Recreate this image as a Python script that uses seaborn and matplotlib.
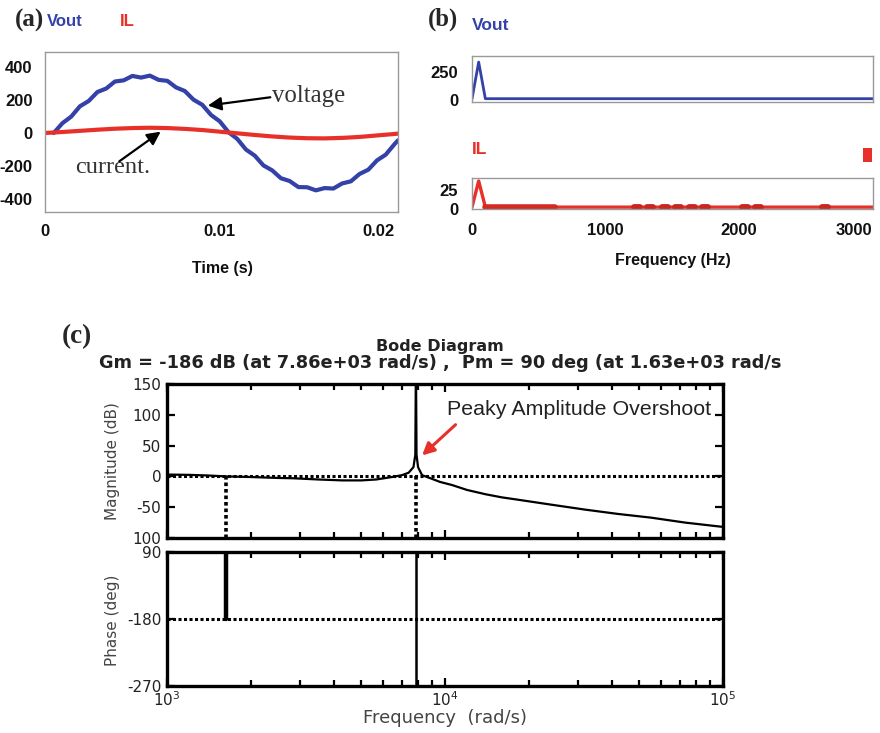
import numpy as np
import pandas as pd
import matplotlib
matplotlib.use("Agg")
import matplotlib.pyplot as plt
import seaborn as sns
from matplotlib import font_manager
from matplotlib.patches import Rectangle
from matplotlib.ticker import FixedLocator, LogLocator, NullFormatter, FixedFormatter

# ---------------- data ----------------
# (a) time domain
time_v = [0.0005, 0.0010, 0.0015, 0.0020, 0.0025, 0.0030, 0.0035, 0.0040, 0.0045, 0.0050,
          0.0055, 0.0060, 0.0065, 0.0070, 0.0075, 0.0080, 0.0085, 0.0090, 0.0095, 0.0100,
          0.0105, 0.0110, 0.0115, 0.0120, 0.0125, 0.0130, 0.0135, 0.0140, 0.0145, 0.0150,
          0.0155, 0.0160, 0.0165, 0.0170, 0.0175, 0.0180, 0.0185, 0.0190, 0.0195, 0.0200, 0.0202]
vout = [0, 60, 100, 163, 195, 250, 271, 314, 321, 348,
        338, 350, 324, 318, 278, 256, 203, 172, 110, 71,
        5, -36, -101, -138, -198, -228, -276, -293, -330, -331,
        -350, -336, -339, -308, -295, -250, -224, -167, -132, -68, -45]
time_i = [0.000, 0.001, 0.002, 0.003, 0.004, 0.005, 0.006, 0.007, 0.008, 0.009, 0.010,
          0.011, 0.012, 0.013, 0.014, 0.015, 0.016, 0.017, 0.018, 0.019, 0.020, 0.0202]
il = [0, 6, 13, 20, 26, 30, 32, 30, 25, 18, 8,
      -2, -12, -21, -28, -32, -33, -30, -24, -15, -6, -4]
a_xticks = [0, 0.01, 0.02]
a_xticklabels = ["0", "0.01", "0.02"]
a_yticks = [400, 200, 0, -200, -400]
a_yticklabels = ["400", "200", "0", "-200", "-400"]

# (b) spectra
fft_freq = [0, 50, 100, 3004]
fft_vout = [5, 340, 8, 8]
fft_il = [2, 37, 2, 2]
il_band = [100, 620]                      # thicker low-order harmonic band (Hz)
il_harm_freqs = [1236, 1333, 1446, 1543, 1648, 1745, 2045, 2142, 2644]
b_xticks = [0, 1000, 2000, 3000]
b_xticklabels = ["0", "1000", "2000", "3000"]
vout_yticks = [0, 250]
il_yticks = [0, 25]

# (c) Bode diagram
bode_freq = [1000, 1200, 1400, 1630, 2000, 2500, 2830, 3500, 4270, 5000, 5660, 6450,
             7000, 7400, 7700, 7820, 7855, 7865, 7900, 8000, 8270, 8980, 9600, 10600,
             12000, 14000, 16000, 18400, 24200, 32000, 42000, 55200, 73100, 100000]
bode_mag = [3, 2.5, 1.5, 0, -1, -2.5, -3, -5, -6.5, -6.5, -5, -1,
            2, 6, 15, 35, 170, 170, 35, 15, 2, -4, -9, -14,
            -22, -29, -34, -38, -46, -54, -61, -67, -75, -82]
phase_freq = [1000, 7860, 7860, 100000]
phase_deg = [-90, -90, -270, -270]
gm_freq = 7860
pm_freq = 1630
mag_ticks = [150, 100, 50, 0, -50, -100]
mag_ticklabels = ["150", "100", "50", "0", "-50", "100"]
phase_ticks = [-90, -180, -270]
phase_ticklabels = ["90", "-180", "-270"]

BLUE = "#3442a8"
RED = "#e8302a"

# ---------------- style ----------------
sns.set_style("white")
names = {f.name for f in font_manager.fontManager.ttflist}
NARROW = "Liberation Sans Narrow" if "Liberation Sans Narrow" in names else "Liberation Sans"
TICKSIZE = 13.5 if NARROW == "Liberation Sans Narrow" else 12
plt.rcParams["font.family"] = ["DejaVu Sans"]

W, H = 880, 733
fig = plt.figure(figsize=(W / 100, H / 100), dpi=100)


def rect(l, t, r, b):
    return [l / W, 1 - b / H, (r - l) / W, (b - t) / H]


def P(x, y):
    return x / W, 1 - y / H


renderer = fig.canvas.get_renderer()


def fit(txt, width):
    bb = txt.get_window_extent(renderer)
    txt.set_fontsize(txt.get_fontsize() * width / bb.width)
    return txt


def ftext(x, y, s, width=None, **kw):
    t = fig.text(*P(x, y), s, **kw)
    if width:
        fit(t, width)
    return t


def narrow_ticks(ax):
    for lab in ax.get_xticklabels() + ax.get_yticklabels():
        lab.set_fontfamily(NARROW)
        lab.set_fontweight("bold")
        lab.set_fontsize(TICKSIZE)
        lab.set_color("#111111")


# ---------------- (a) ----------------
axa = fig.add_axes(rect(45, 52, 398, 212))
sns.lineplot(x=time_v, y=vout, ax=axa, color=BLUE, lw=3.0, estimator=None)
sns.lineplot(x=time_i, y=il, ax=axa, color=RED, lw=3.0, estimator=None)
axa.set_xlim(0, 0.0202)
axa.set_ylim(-482, 494)
axa.set_xticks(a_xticks)
axa.set_xticklabels(a_xticklabels)
axa.set_yticks(a_yticks)
axa.set_yticklabels(a_yticklabels)
axa.tick_params(length=0, pad=9)
for s in axa.spines.values():
    s.set_color("#999999")
    s.set_linewidth(1.0)
narrow_ticks(axa)
axa.get_xticklabels()[-1].set_ha("right")
axa.get_xticklabels()[-1].set_x(0.0202)

axa.annotate("", xy=(0.00916, 165), xytext=(0.01305, 220),
             arrowprops=dict(arrowstyle="-|>", color="black", lw=1.6, mutation_scale=20))
axa.annotate("", xy=(0.00675, 18), xytext=(0.00412, -183),
             arrowprops=dict(arrowstyle="-|>", color="black", lw=1.6, mutation_scale=20))
tv = axa.text(0.0130, 225, "voltage", family="Liberation Serif", fontsize=17,
              color="#333333", ha="left", va="center")
fit(tv, 73)
tc = axa.text(0.00172, -213, "current.", family="Liberation Serif", fontsize=17,
              color="#333333", ha="left", va="center")
fit(tc, 75)

ftext(15, 20, "(a)", 29, family="Liberation Serif", weight="bold", fontsize=15, va="center")
ftext(47, 21, "Vout", family=NARROW, weight="bold", color=BLUE, fontsize=12, va="center")
ftext(120, 21, "IL", family=NARROW, weight="bold", color=RED, fontsize=12, va="center")
ftext(222, 268, "Time (s)", family=NARROW, weight="bold", fontsize=11.5,
      ha="center", va="center", color="#111111")

# ---------------- (b) ----------------
axv = fig.add_axes(rect(472, 56, 873, 102))
sns.lineplot(x=fft_freq, y=fft_vout, ax=axv, color=BLUE, lw=2.0, estimator=None)
axv.set_xlim(0, 3004)
axv.set_ylim(-22, 395)
axv.set_xticks([])
axv.set_yticks(vout_yticks)
axv.set_yticklabels([str(v) for v in vout_yticks])

axi = fig.add_axes(rect(472, 178, 873, 209))
sns.lineplot(x=fft_freq, y=fft_il, ax=axi, color=RED, lw=2.4, estimator=None)
sns.lineplot(x=il_band, y=[2, 2], ax=axi, color="#d42a22", lw=4.0, estimator=None)
for f in il_harm_freqs:
    sns.lineplot(x=[f - 22, f + 22], y=[2, 2], ax=axi, color="#c8261f", lw=4.2, estimator=None)
axi.set_xlim(0, 3004)
axi.set_ylim(-0.5, 41)
axi.set_xticks(b_xticks)
axi.set_xticklabels(b_xticklabels)
axi.set_yticks(il_yticks)
axi.set_yticklabels([str(v) for v in il_yticks])
for ax in (axv, axi):
    ax.tick_params(length=0, pad=10)
    for s in ax.spines.values():
        s.set_color("#999999")
        s.set_linewidth(1.0)
    narrow_ticks(ax)
axi.get_xticklabels()[-1].set_ha("right")
axi.get_xticklabels()[-1].set_x(3004)

fig.patches.append(Rectangle(P(863, 162), 9 / W, 14 / H, transform=fig.transFigure,
                             facecolor=RED, edgecolor="none"))
ftext(428, 19, "(b)", 30, family="Liberation Serif", weight="bold", fontsize=15, va="center")
ftext(472, 26, "Vout", family=NARROW, weight="bold", color=BLUE, fontsize=12.5, va="center")
ftext(472, 150, "IL", family=NARROW, weight="bold", color=RED, fontsize=12.5, va="center")
ftext(673, 260, "Frequency (Hz)", family=NARROW, weight="bold", fontsize=11.5,
      ha="center", va="center", color="#111111")

# ---------------- (c) ----------------
axm = fig.add_axes(rect(167, 384, 723, 538))
axp = fig.add_axes(rect(167, 552, 723, 686), sharex=axm)
for ax in (axm, axp):
    ax.set_xscale("log")

sns.lineplot(x=bode_freq, y=bode_mag, ax=axm, color="black", lw=1.6, estimator=None)
dots = (0, (1.0, 0.8))
axm.axhline(0, color="black", lw=2.2, ls=dots)
axm.plot([pm_freq, pm_freq], [0, -100], color="black", lw=2.6, ls=dots)
axm.plot([gm_freq, gm_freq], [0, -100], color="black", lw=2.6, ls=dots)
axm.set_xlim(1000, 100000)
axm.set_ylim(-100, 150)
axm.yaxis.set_major_locator(FixedLocator(mag_ticks))
axm.yaxis.set_major_formatter(FixedFormatter(mag_ticklabels))

sns.lineplot(x=phase_freq, y=phase_deg, ax=axp, color="black", lw=1.8,
             estimator=None, sort=False)
axp.axhline(-180, color="black", lw=2.2, ls=dots)
axp.plot([pm_freq, pm_freq], [-90, -180], color="black", lw=3.2)
axp.set_ylim(-270, -90)
axp.yaxis.set_major_locator(FixedLocator(phase_ticks))
axp.yaxis.set_major_formatter(FixedFormatter(phase_ticklabels))

for ax in (axm, axp):
    ax.xaxis.set_major_locator(LogLocator(base=10, numticks=10))
    ax.xaxis.set_minor_locator(LogLocator(base=10, subs=np.arange(2, 10), numticks=20))
    ax.xaxis.set_minor_formatter(NullFormatter())
    ax.tick_params(which="both", direction="in", top=True, right=True, bottom=True, left=True,
                   colors="black", labelcolor="#222222", labelsize=11, pad=4, width=1.6)
    ax.tick_params(which="major", length=6)
    ax.tick_params(which="minor", length=4)
    for s in ax.spines.values():
        s.set_color("black")
        s.set_linewidth(2.4)
axm.tick_params(labelbottom=False)
axp.tick_params(axis="x", pad=3)

axm.annotate("", xy=(8130, 31), xytext=(11100, 87),
             arrowprops=dict(arrowstyle="-|>", color=RED, lw=2.2, mutation_scale=18))
tp = axm.text(10160, 108, "Peaky Amplitude Overshoot", family=NARROW, fontsize=15,
              color="#222222", ha="left", va="center")
fit(tp, 265)

ftext(62, 337, "(c)", 30, family="Liberation Serif", weight="bold", fontsize=15, va="center")
ftext(440, 346, "Bode Diagram", weight="bold", fontsize=11.5, ha="center", va="center",
      color="#222222")
ftext(440, 363, "Gm = -186 dB (at 7.86e+03 rad/s) ,  Pm = 90 deg (at 1.63e+03 rad/s",
      weight="bold", fontsize=12.8, ha="center", va="center", color="#222222")
ftext(445, 718, "Frequency  (rad/s)", fontsize=13, ha="center", va="center",
      color="#444444")
ftext(112, 620, "Phase (deg)", fontsize=11, rotation=90, ha="center", va="center",
      color="#444444")
ftext(112, 461, "Magnitude (dB)", fontsize=11, rotation=90, ha="center", va="center",
      color="#444444")

fig.savefig("out.png", dpi=100)
